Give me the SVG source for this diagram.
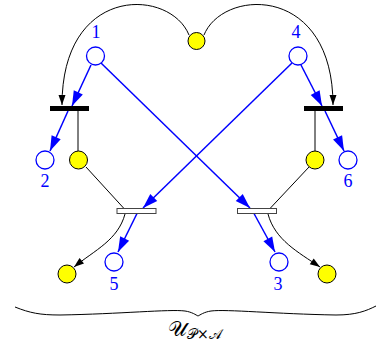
<svg xmlns="http://www.w3.org/2000/svg" width="380" height="349" viewBox="0 0 380 349">
<style>
.place{fill:#fff;stroke:#0000ff;stroke-width:1.3}
.token{fill:#ffff00;stroke:#000;stroke-width:1}
.bar{fill:#000}
.gbar{fill:#fff;stroke:#444;stroke-width:1}
.lbl{font-family:"Liberation Serif",serif;font-size:18px;fill:#0000ff;text-anchor:middle}
.blue{stroke:#0000ff;stroke-width:1.5;fill:none;marker-end:url(#ab)}
.blk{stroke:#000;stroke-width:1;fill:none}
.blka{stroke:#000;stroke-width:1;fill:none;marker-end:url(#ak)}
</style>
<defs>
<marker id="ab" markerUnits="userSpaceOnUse" markerWidth="16" markerHeight="12" refX="15" refY="5" orient="auto" overflow="visible">
<path d="M0,0 L15,5 L0,10 z" fill="#0000ff"/>
</marker>
<marker id="ak" markerUnits="userSpaceOnUse" markerWidth="12" markerHeight="8" refX="10" refY="3.5" orient="auto" overflow="visible">
<path d="M0,0 L10,3.5 L0,7 z" fill="#000"/>
</marker>
</defs>
<g id="connectors">
<path class="blka" d="M189,35 C170,-12 62,-16 62,105"/>
<path class="blka" d="M204,35 C223,-12 333,-16 333,105"/>
<line class="blue" x1="91" y1="65" x2="72" y2="106"/>
<line class="blue" x1="68" y1="111" x2="50" y2="151"/>
<line class="blue" x1="301" y1="65" x2="322" y2="106"/>
<line class="blue" x1="325" y1="111" x2="344" y2="151"/>
<line class="blue" x1="101" y1="63" x2="250" y2="208"/>
<line class="blue" x1="254" y1="213.5" x2="275" y2="252"/>
<line class="blue" x1="292" y1="63" x2="143" y2="208"/>
<line class="blue" x1="137" y1="213.5" x2="118" y2="252"/>
<line class="blk" x1="78" y1="111" x2="78" y2="151"/>
<line class="blk" x1="315" y1="111" x2="315" y2="151"/>
<line class="blk" x1="86" y1="167" x2="124" y2="208.5"/>
<line class="blk" x1="309" y1="167" x2="270" y2="208.5"/>
<path class="blka" d="M125,214 C118,240 95,250 74,267"/>
<path class="blka" d="M268,214 C275,240 298,252 320,267"/>
</g>
<g id="token-top"><circle class="token" cx="196.5" cy="41" r="8.5"/></g>
<g id="place1"><circle class="place" cx="95.5" cy="56" r="9"/><text class="lbl" x="96" y="38">1</text></g>
<g id="place4"><circle class="place" cx="298" cy="56" r="9"/><text class="lbl" x="296" y="38">4</text></g>
<g id="trans-left"><rect class="bar" x="50" y="106" width="39" height="5"/></g>
<g id="trans-right"><rect class="bar" x="304" y="106" width="39" height="5"/></g>
<g id="place2"><circle class="place" cx="45" cy="160" r="9"/><text class="lbl" x="45" y="187">2</text></g>
<g id="token-left"><circle class="token" cx="78.5" cy="160" r="9"/></g>
<g id="token-right"><circle class="token" cx="315" cy="160" r="9"/></g>
<g id="place6"><circle class="place" cx="348" cy="160" r="9"/><text class="lbl" x="348" y="187">6</text></g>
<g id="gtrans-left"><rect class="gbar" x="117" y="208.5" width="39" height="5"/></g>
<g id="gtrans-right"><rect class="gbar" x="237.5" y="208.5" width="39" height="5"/></g>
<g id="place5"><circle class="place" cx="114" cy="262" r="9"/><text class="lbl" x="114" y="290">5</text></g>
<g id="place3"><circle class="place" cx="279" cy="262" r="9"/><text class="lbl" x="278" y="290">3</text></g>
<g id="token-bl"><circle class="token" cx="67" cy="274" r="9"/></g>
<g id="token-br"><circle class="token" cx="327" cy="274" r="9"/></g>
<g id="brace">
<path d="M15,307 C30,313 40,315 60,315 C120,314 170,309 185,311 C192,312 196,315 198,316 C200,315 204,312 211,311 C226,309 276,314 336,315 C356,315 366,311 376,306" fill="none" stroke="#000" stroke-width="1"/>
<text x="168" y="336" font-family="'DejaVu Serif',serif" font-size="21" fill="#000">𝒰<tspan font-size="14" dy="3">𝒫×𝒜</tspan></text>
</g>
</svg>
